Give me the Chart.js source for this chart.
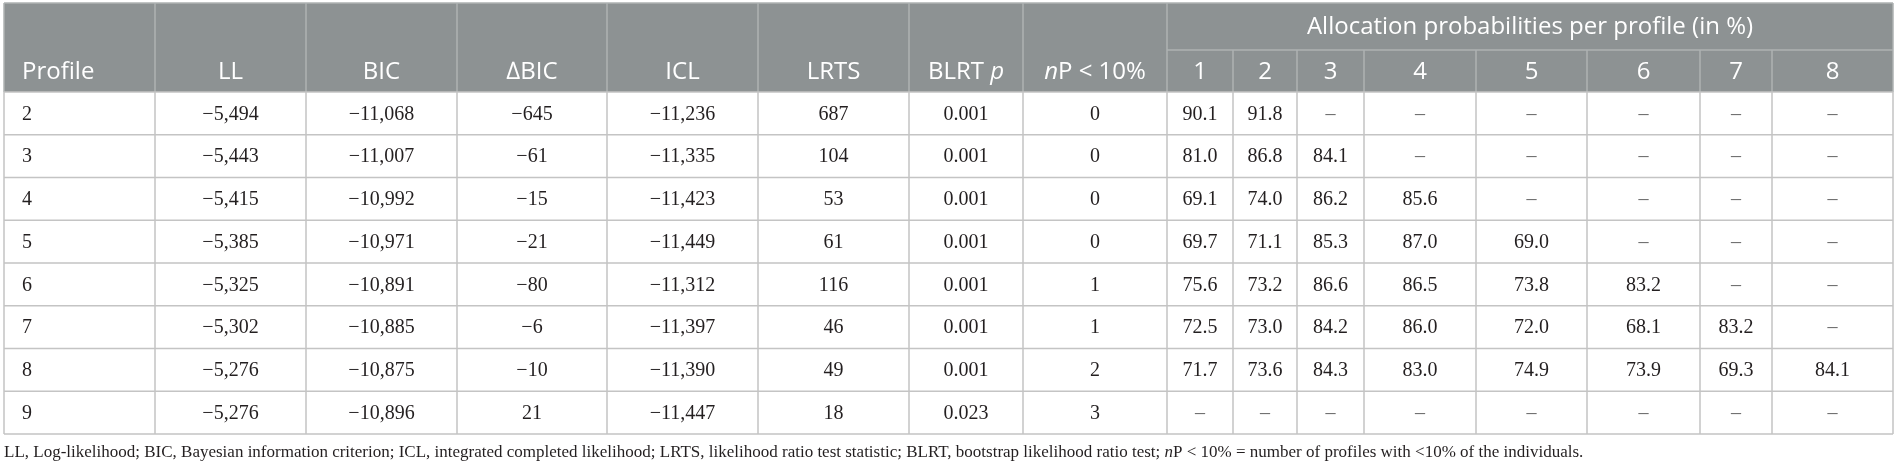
<!DOCTYPE html>
<html>
<head>
<meta charset="utf-8">
<script src="https://cdn.jsdelivr.net/npm/chart.js@4.4.0/dist/chart.umd.min.js"></script>
<style>
  html, body { margin: 0; padding: 0; background: #fff; }
</style>
</head>
<body>
<canvas id="fitTable" width="1897" height="465"></canvas>
<script>
// table values, one array per column
const profiles = [2, 3, 4, 5, 6, 7, 8, 9];
const logLik = [-5494, -5443, -5415, -5385, -5325, -5302, -5276, -5276];
const bic = [-11068, -11007, -10992, -10971, -10891, -10885, -10875, -10896];
const deltaBic = [-645, -61, -15, -21, -80, -6, -10, 21];
const icl = [-11236, -11335, -11423, -11449, -11312, -11397, -11390, -11447];
const lrts = [687, 104, 53, 61, 116, 46, 49, 18];
const blrtP = [0.001, 0.001, 0.001, 0.001, 0.001, 0.001, 0.001, 0.023];
const smallProfiles = [0, 0, 0, 0, 1, 1, 2, 3];
const allocLabels = ['1', '2', '3', '4', '5', '6', '7', '8'];
const allocation = [
  [90.1, 91.8],
  [81.0, 86.8, 84.1],
  [69.1, 74.0, 86.2, 85.6],
  [69.7, 71.1, 85.3, 87.0, 69.0],
  [75.6, 73.2, 86.6, 86.5, 73.8, 83.2],
  [72.5, 73.0, 84.2, 86.0, 72.0, 68.1, 83.2],
  [71.7, 73.6, 84.3, 83.0, 74.9, 73.9, 69.3, 84.1],
  []
];
const footnote = [
  ['LL, Log-likelihood; BIC, Bayesian information criterion; ICL, integrated completed likelihood; LRTS, likelihood ratio test statistic; BLRT, bootstrap likelihood ratio test; ', false],
  ['n', true],
  ['P < 10% = number of profiles with <10% of the individuals.', false]
];

// layout
const W = 1897, H = 465;
const colEdges = [4, 155, 306, 457, 607, 758, 909, 1023, 1167, 1233, 1297, 1364, 1476, 1587, 1700, 1772, 1893];
const headTop = 3, subTop = 50, headBottom = 92, rowH = 42.75;
const headBg = '#8d9293', headLine = '#aeb2b3', bodyLine = '#c4c4c4';
const headFont = '"Open Sans", sans-serif';
const bodyFont = '"Liberation Serif", "Times New Roman", serif';

const thousands = n => (n < 0 ? '\u2212' : '') + Math.abs(n).toLocaleString('en-US');
const dash = v => v === undefined;

const columns = [
  { head: [['Profile', false]], values: profiles, fmt: String, left: true },
  { head: [['LL', false]], values: logLik, fmt: thousands },
  { head: [['BIC', false]], values: bic, fmt: thousands },
  { head: [['\u2206BIC', false]], values: deltaBic, fmt: thousands },
  { head: [['ICL', false]], values: icl, fmt: thousands },
  { head: [['LRTS', false]], values: lrts, fmt: String },
  { head: [['BLRT ', false], ['p', true]], values: blrtP, fmt: v => v.toFixed(3) },
  { head: [['n', true], ['P < 10%', false]], values: smallProfiles, fmt: String }
].concat(allocLabels.map((lab, k) => ({
  head: [[lab, false]],
  values: allocation.map(r => r[k]),
  fmt: v => dash(v) ? '\u2013' : v.toFixed(1),
  alloc: true
})));

const yMin = -(headBottom / rowH) - 0.5;
const yMax = yMin + H / rowH;

function drawRuns(ctx, runs, x, y, size, family, align) {
  ctx.textBaseline = 'middle';
  ctx.textAlign = 'left';
  const widths = runs.map(([t, it]) => {
    ctx.font = (it ? 'italic ' : '') + size + 'px ' + family;
    return ctx.measureText(t).width;
  });
  const total = widths.reduce((a, b) => a + b, 0);
  let cx = align === 'left' ? x : x - total / 2;
  runs.forEach(([t, it], i) => {
    ctx.font = (it ? 'italic ' : '') + size + 'px ' + family;
    ctx.fillText(t, cx, y);
    cx += widths[i];
  });
}

const tablePlugin = {
  id: 'tablePlugin',
  beforeDatasetsDraw(chart) {
    const { ctx, scales: { x, y } } = chart;
    const px = v => x.getPixelForValue(v);
    const top = y.getPixelForValue(-0.5);
    const bottom = y.getPixelForValue(profiles.length - 0.5);
    const L = px(colEdges[0]), R = px(colEdges[colEdges.length - 1]);
    ctx.save();
    ctx.fillStyle = headBg;
    ctx.fillRect(L, headTop, R - L, top - headTop);
    // header lines
    ctx.strokeStyle = headLine;
    ctx.lineWidth = 1.5;
    ctx.beginPath();
    ctx.moveTo(L, headTop); ctx.lineTo(R, headTop);
    ctx.moveTo(px(colEdges[8]), subTop); ctx.lineTo(R, subTop);
    colEdges.forEach((e, i) => {
      const y0 = (i > 8 && i < colEdges.length - 1) ? subTop : headTop;
      ctx.moveTo(px(e), y0); ctx.lineTo(px(e), top);
    });
    ctx.stroke();
    // body grid
    ctx.strokeStyle = bodyLine;
    ctx.lineWidth = 1.5;
    ctx.beginPath();
    for (let r = 0; r <= profiles.length; r++) {
      const yy = y.getPixelForValue(r - 0.5);
      ctx.moveTo(L, yy); ctx.lineTo(R, yy);
    }
    colEdges.forEach(e => { ctx.moveTo(px(e), top); ctx.lineTo(px(e), bottom); });
    ctx.stroke();
    ctx.restore();
  },
  afterDatasetsDraw(chart) {
    const { ctx, scales: { x, y } } = chart;
    ctx.save();
    // cell values, placed on the scatter points
    chart.data.datasets.forEach((ds, di) => {
      const meta = chart.getDatasetMeta(di);
      meta.data.forEach((pt, i) => {
        const t = ds.texts[i];
        ctx.fillStyle = t === '\u2013' ? '#6a6a6a' : '#231f20';
        drawRuns(ctx, [[t, false]], pt.x, pt.y + 1, 20, bodyFont, ds.left ? 'left' : 'center');
      });
    });
    // header texts
    ctx.fillStyle = '#ffffff';
    const subMid = (subTop + y.getPixelForValue(-0.5)) / 2 + 1;
    columns.forEach((c, i) => {
      const cx = c.left ? x.getPixelForValue(colEdges[i] + 18) : x.getPixelForValue((colEdges[i] + colEdges[i + 1]) / 2);
      drawRuns(ctx, c.head, cx, subMid, 24, headFont, c.left ? 'left' : 'center');
    });
    const allocMid = x.getPixelForValue((colEdges[8] + colEdges[colEdges.length - 1]) / 2);
    drawRuns(ctx, [['Allocation probabilities per profile (in %)', false]], allocMid, (headTop + subTop) / 2 + 1, 24, headFont, 'center');
    // footnote
    ctx.fillStyle = '#231f20';
    drawRuns(ctx, footnote, x.getPixelForValue(colEdges[0]), y.getPixelForValue(profiles.length - 0.5) + 19, 17, bodyFont, 'left');
    ctx.restore();
  }
};

const datasets = columns.map((c, ci) => ({
  label: c.head.map(h => h[0]).join(''),
  data: c.values.map((v, ri) => ({
    x: c.left ? colEdges[ci] + 18 : (colEdges[ci] + colEdges[ci + 1]) / 2,
    y: ri
  })),
  texts: c.values.map(c.fmt),
  left: !!c.left,
  pointRadius: 0,
  pointHoverRadius: 0
}));

new Chart(document.getElementById('fitTable').getContext('2d'), {
  type: 'scatter',
  data: { datasets },
  options: {
    responsive: false,
    animation: false,
    devicePixelRatio: 1,
    layout: { padding: 0 },
    events: [],
    scales: {
      x: { type: 'linear', min: 0, max: W, display: false },
      y: { type: 'linear', min: yMin, max: yMax, reverse: true, display: false }
    },
    plugins: {
      legend: { display: false },
      tooltip: { enabled: false }
    }
  },
  plugins: [tablePlugin]
});
</script>
</body>
</html>
